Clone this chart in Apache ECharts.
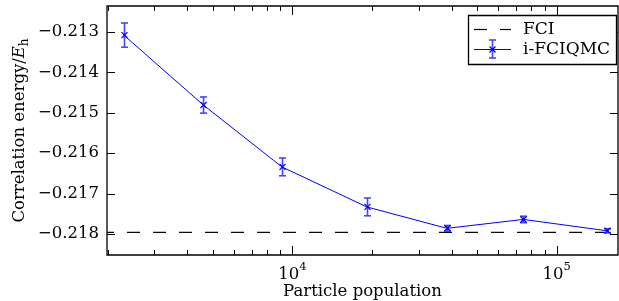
<!DOCTYPE html>
<html>
<head>
<meta charset="utf-8">
<script src="https://cdn.jsdelivr.net/npm/echarts@6/dist/echarts.min.js"></script>
<style>html,body{margin:0;padding:0;background:#fff;}#c{width:619px;height:301px;}</style>
</head>
<body>
<div id="c"></div>
<script>
// ---- data ----
var population = [2300, 4600, 9120, 19100, 38400, 74800, 154600];
var energy = [-0.21308, -0.21481, -0.21634, -0.21733, -0.21786, -0.21764, -0.21792];
var errorBar = [0.00030, 0.00020, 0.00022, 0.00022, 0.00007, 0.00008, 0.00005];
var fciEnergy = -0.21796;
var xRange = [1987, 170500];
var yRange = [-0.21852, -0.21236];
var yTicks = [-0.213, -0.214, -0.215, -0.216, -0.217, -0.218];
var xMajorTicks = [10000, 100000];
var xMinorTicks = [2000, 3000, 4000, 5000, 6000, 7000, 8000, 9000, 20000, 30000, 40000, 50000, 60000, 70000, 80000, 90000];
var seriesNames = ['FCI', 'i-FCIQMC'];

var FONT = 'DejaVu Serif';
var FS = 16.5;
var BLUE = '#0000ff';
var BAR = '#4545ff';

var chart = echarts.init(document.getElementById('c'), null, {renderer: 'canvas'});

var mainData = population.map(function (p, i) { return [p, energy[i]]; });
var errData = population.map(function (p, i) { return [p, energy[i], errorBar[i]]; });

function tickRender(params, api) {
  var cs = params.coordSys;
  var left = cs.x, right = cs.x + cs.width, top = cs.y, bottom = cs.y + cs.height;
  var ch = [];
  var st = {stroke: '#000', lineWidth: 1};
  function seg(x1, y1, x2, y2) {
    ch.push({type: 'line', shape: {x1: x1, y1: y1, x2: x2, y2: y2}, style: st, silent: true});
  }
  yTicks.forEach(function (v) {
    var y = Math.round(api.coord([xRange[0], v])[1]) + 0.5;
    seg(left, y, left + 8, y);
    seg(right, y, right - 8, y);
  });
  xMajorTicks.forEach(function (v) {
    var x = Math.round(api.coord([v, yRange[0]])[0]) + 0.5;
    seg(x, bottom, x, bottom - 9);
    seg(x, top, x, top + 9);
  });
  xMinorTicks.forEach(function (v) {
    if (v <= xRange[0] || v >= xRange[1]) return;
    var x = Math.round(api.coord([v, yRange[0]])[0]) + 0.5;
    seg(x, bottom, x, bottom - 5);
    seg(x, top, x, top + 5);
  });
  return {type: 'group', children: ch};
}

function errRender(params, api) {
  var x = api.value(0), y = api.value(1), e = api.value(2);
  var pc = api.coord([x, y]);
  var pt = api.coord([x, y + e]);
  var pb = api.coord([x, y - e]);
  var cx = Math.round(pc[0]) + 0.5;
  var cap = 3.5, m = 3;
  var bs = {stroke: BAR, lineWidth: 1.6};
  var ms = {stroke: BLUE, lineWidth: 1.3};
  return {
    type: 'group',
    children: [
      {type: 'line', shape: {x1: cx, y1: pt[1], x2: cx, y2: pb[1]}, style: bs},
      {type: 'line', shape: {x1: cx - cap, y1: pt[1], x2: cx + cap, y2: pt[1]}, style: bs},
      {type: 'line', shape: {x1: cx - cap, y1: pb[1], x2: cx + cap, y2: pb[1]}, style: bs},
      {type: 'line', shape: {x1: cx - m, y1: pc[1] - m, x2: cx + m, y2: pc[1] + m}, style: ms},
      {type: 'line', shape: {x1: cx - m, y1: pc[1] + m, x2: cx + m, y2: pc[1] - m}, style: ms}
    ]
  };
}

var option = {
  backgroundColor: '#fff',
  animation: false,
  textStyle: {fontFamily: FONT},
  grid: {left: 107, right: 1, top: 6, bottom: 46, containLabel: false, outerBoundsMode: 'none',
    show: true, borderColor: '#000', borderWidth: 1.3, backgroundColor: 'transparent'},
  xAxis: {
    type: 'log', logBase: 10, min: xRange[0], max: xRange[1],
    axisLine: {show: false}, axisTick: {show: false}, splitLine: {show: false}, minorTick: {show: false},
    axisLabel: {
      margin: 6, showMinLabel: false, showMaxLabel: false,
      formatter: function (v) {
        var e = Math.log10(v);
        if (Math.abs(e - Math.round(e)) > 1e-6) return '';
        return '{b|10}{s|' + Math.round(e) + '}';
      },
      rich: {
        b: {fontFamily: FONT, fontSize: FS, color: '#000', lineHeight: 22, verticalAlign: 'bottom'},
        s: {fontFamily: FONT, fontSize: 11.5, color: '#000', lineHeight: 22, verticalAlign: 'top'}
      }
    },
    name: 'Particle population', nameLocation: 'middle', nameGap: 28, nameMoveOverlap: false,
    nameTextStyle: {fontFamily: FONT, fontSize: FS, color: '#000'}
  },
  yAxis: {
    type: 'value', min: yRange[0], max: yRange[1], splitNumber: 6,
    axisLine: {show: false}, axisTick: {show: false}, splitLine: {show: false},
    axisLabel: {
      margin: 8, showMinLabel: false, showMaxLabel: false,
      fontFamily: FONT, fontSize: FS, color: '#000',
      formatter: function (v) {
        var k = v * 1000;
        if (Math.abs(k - Math.round(k)) > 1e-6) return '';
        return '\u2212' + Math.abs(v).toFixed(3);
      }
    },
    name: '{a|Correlation energy/}{e|E}{h|h}', nameLocation: 'middle', nameGap: 76, nameRotate: 90, nameMoveOverlap: false,
    nameTextStyle: {
      rich: {
        a: {fontFamily: FONT, fontSize: FS, color: '#000', lineHeight: 22, verticalAlign: 'middle'},
        e: {fontFamily: FONT, fontSize: FS, color: '#000', fontStyle: 'italic', lineHeight: 22, verticalAlign: 'middle'},
        h: {fontFamily: FONT, fontSize: 12, color: '#000', lineHeight: 22, verticalAlign: 'bottom'}
      }
    }
  },
  series: [
    {
      name: seriesNames[0], type: 'line', data: [[xRange[0], fciEnergy], [xRange[1], fciEnergy]],
      symbol: 'none', lineStyle: {color: '#000', width: 1.2, type: [13, 13], dashOffset: 6}, silent: true, z: 2
    },
    {
      name: seriesNames[1], type: 'line', data: mainData, symbol: 'none',
      lineStyle: {color: BLUE, width: 1}, silent: true, z: 3
    },
    {
      type: 'custom', data: errData, renderItem: errRender, silent: true, z: 4
    },
    {
      type: 'custom', data: [[xRange[0], yRange[0]]], renderItem: tickRender, silent: true, z: 5
    }
  ],
  graphic: [
    {type: 'rect', shape: {x: 468.5, y: 15.5, width: 148, height: 49}, style: {fill: '#fff', stroke: '#000', lineWidth: 1.3}, z: 100},
    {type: 'line', shape: {x1: 474, y1: 29.5, x2: 511, y2: 29.5}, style: {stroke: '#000', lineWidth: 1.2, lineDash: [13, 13]}, z: 101},
    {type: 'text', x: 523, y: 29.5, style: {text: seriesNames[0], fontFamily: FONT, fontSize: 17, fill: '#000', verticalAlign: 'middle'}, z: 101},
    {type: 'line', shape: {x1: 474, y1: 49.5, x2: 511, y2: 49.5}, style: {stroke: BLUE, lineWidth: 1}, z: 101},
    {type: 'line', shape: {x1: 492.5, y1: 40, x2: 492.5, y2: 58}, style: {stroke: BAR, lineWidth: 1.6}, z: 101},
    {type: 'line', shape: {x1: 489, y1: 40, x2: 496, y2: 40}, style: {stroke: BAR, lineWidth: 1.6}, z: 101},
    {type: 'line', shape: {x1: 489, y1: 58, x2: 496, y2: 58}, style: {stroke: BAR, lineWidth: 1.6}, z: 101},
    {type: 'line', shape: {x1: 489.5, y1: 46.5, x2: 495.5, y2: 52.5}, style: {stroke: BLUE, lineWidth: 1.3}, z: 101},
    {type: 'line', shape: {x1: 489.5, y1: 52.5, x2: 495.5, y2: 46.5}, style: {stroke: BLUE, lineWidth: 1.3}, z: 101},
    {type: 'text', x: 523, y: 49.5, style: {text: seriesNames[1], fontFamily: FONT, fontSize: 17, fill: '#000', verticalAlign: 'middle'}, z: 101}
  ]
};
chart.setOption(option);
</script>
</body>
</html>
